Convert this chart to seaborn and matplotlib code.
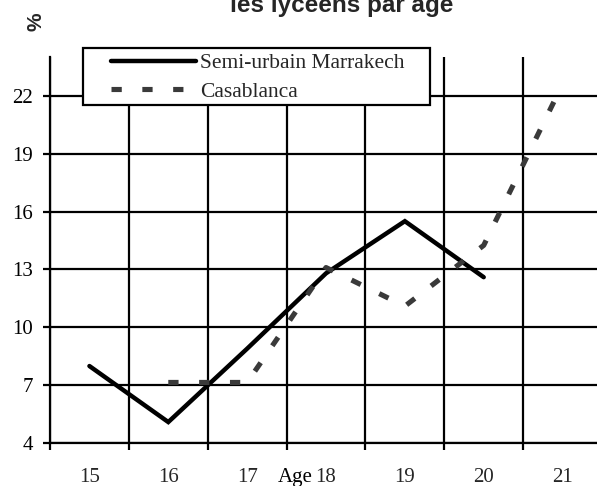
import numpy as np
import pandas as pd
import matplotlib
matplotlib.use("Agg")
import matplotlib.pyplot as plt
import matplotlib.transforms as mtrans
import seaborn as sns
from matplotlib.patches import Rectangle
from matplotlib.lines import Line2D

# ---- data ----
ages = ["15", "16", "17", "18", "19", "20", "21"]
marrakech = [8.0, 5.1, 8.9, 12.8, 15.5, 12.6, np.nan]
casablanca = [np.nan, 7.15, 7.15, 13.1, 11.1, 14.25, 22.6]
yticks = [4, 7, 10, 13, 16, 19, 22]
series_names = ["Semi-urbain Marrakech", "Casablanca"]
title = "les lycéens par âge"
x_title = "Age"
y_title = "%"

sns.set_theme(style="white")
plt.rcParams["font.family"] = ["Liberation Serif", "DejaVu Serif"]

W, H = 597, 486
fig = plt.figure(figsize=(W / 100, H / 100), dpi=100)
ax = fig.add_axes([50 / W, (H - 443.3) / H, 552 / W, (443.3 - 57) / H])

pos = np.arange(len(ages))
df = pd.DataFrame({"pos": pos, "m": marrakech, "c": casablanca})

sns.lineplot(data=df, x="pos", y="m", ax=ax, color="black", linewidth=3.2,
             solid_capstyle="round", solid_joinstyle="miter", zorder=3)
sns.lineplot(data=df, x="pos", y="c", ax=ax, color="#3a3a3a", linewidth=3.7, zorder=3)
ax.lines[-1].set_dashes((2.0, 4.0))
ax.lines[-1].set_dash_capstyle("butt")

ax.set_xlim(-0.5, 6.5)
ax.set_ylim(4, 24)
ax.set_xticks(np.arange(-0.5, 7.0, 1.0))
ax.set_xticklabels([])
ax.set_xticks(pos, minor=True)
ax.set_xticklabels(ages, minor=True)
ax.set_yticks(yticks)
ax.set_yticklabels([str(v) for v in yticks])
ax.set_xlabel("")
ax.set_ylabel("")

ax.grid(True, which="major", color="black", linewidth=1.6)
ax.set_axisbelow(True)
for s in ["top", "right"]:
    ax.spines[s].set_visible(False)
for s in ["left", "bottom"]:
    ax.spines[s].set_color("black")
    ax.spines[s].set_linewidth(1.6)

ax.tick_params(axis="both", which="major", direction="out", length=5, width=1.6,
               color="black", labelsize=15, labelcolor="black")
ax.tick_params(axis="y", which="major", pad=7, left=True)
ax.tick_params(axis="x", which="major", bottom=True)
ax.tick_params(axis="x", which="minor", length=0, pad=18, labelsize=15, bottom=True)

# "Age" next to the 18 label
ax.text(2.83, 0.0, x_title, ha="right", va="top", fontsize=15, color="black",
        transform=ax.get_xaxis_transform()
        + mtrans.ScaledTranslation(0, -18 / 72, fig.dpi_scale_trans))

# legend frame
fig.add_artist(Rectangle((83 / W, 1 - 105 / H), (430 - 83) / W, (105 - 48) / H,
                         transform=fig.transFigure, facecolor="white",
                         edgecolor="black", linewidth=1.6, zorder=3))
handles = [
    Line2D([], [], color="black", linewidth=3.2, solid_capstyle="round"),
    Line2D([], [], color="#3a3a3a", linewidth=3.7, dashes=(2.0, 4.0), dash_capstyle="butt"),
]
leg = fig.legend(handles, series_names, loc="upper left",
                 bbox_to_anchor=(111 / W, 1 - 53 / H), frameon=False,
                 borderpad=0, borderaxespad=0, handlelength=82 / 20.8,
                 handletextpad=4 / 20.8, labelspacing=0.4, fontsize=15.5)
leg.set_zorder(5)

fig.text(342 / W, 1 - 12 / H, title, ha="center", va="baseline",
         fontsize=17.5, fontweight="bold", family=["Liberation Sans", "DejaVu Sans"])
fig.text(36 / W, 1 - 22 / H, y_title, ha="center", va="center", rotation=90,
         fontsize=15, fontweight="bold", family=["Liberation Sans", "DejaVu Sans"])

fig.savefig("out.png", dpi=100)
